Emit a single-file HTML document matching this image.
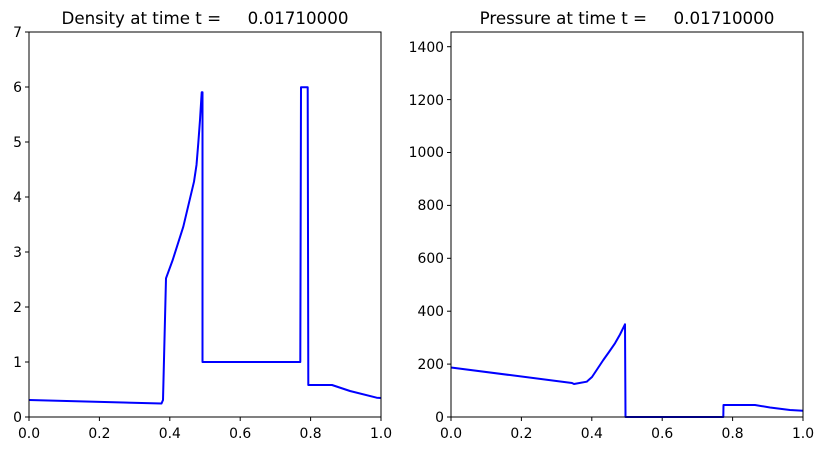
<!DOCTYPE html>
<html><head><meta charset="utf-8"><style>body{margin:0;background:#fff}text{white-space:pre}</style></head><body>
<svg width="824" height="451" viewBox="0 0 824 451" xmlns="http://www.w3.org/2000/svg" font-family="DejaVu Sans, Liberation Sans, sans-serif">
<rect width="824" height="451" fill="#fff"/>
<text x="205" y="24" font-size="16.7" text-anchor="middle" xml:space="preserve">Density at time t =     0.01710000</text>
<text x="627" y="24" font-size="16.7" text-anchor="middle" xml:space="preserve">Pressure at time t =     0.01710000</text>
<g stroke="#000" stroke-width="1">
<line x1="29" y1="417" x2="29" y2="421"/><line x1="99.4" y1="417" x2="99.4" y2="421"/><line x1="169.8" y1="417" x2="169.8" y2="421"/><line x1="240.2" y1="417" x2="240.2" y2="421"/><line x1="310.6" y1="417" x2="310.6" y2="421"/><line x1="381" y1="417" x2="381" y2="421"/>
<line x1="451" y1="417" x2="451" y2="421"/><line x1="521.4" y1="417" x2="521.4" y2="421"/><line x1="591.8" y1="417" x2="591.8" y2="421"/><line x1="662.2" y1="417" x2="662.2" y2="421"/><line x1="732.6" y1="417" x2="732.6" y2="421"/><line x1="803" y1="417" x2="803" y2="421"/>
<line x1="25" y1="417" x2="29" y2="417"/><line x1="25" y1="362" x2="29" y2="362"/><line x1="25" y1="307" x2="29" y2="307"/><line x1="25" y1="252" x2="29" y2="252"/><line x1="25" y1="197" x2="29" y2="197"/><line x1="25" y1="142" x2="29" y2="142"/><line x1="25" y1="87" x2="29" y2="87"/><line x1="25" y1="32" x2="29" y2="32"/>
<line x1="447" y1="417" x2="451" y2="417"/><line x1="447" y1="364.1" x2="451" y2="364.1"/><line x1="447" y1="311.2" x2="451" y2="311.2"/><line x1="447" y1="258.3" x2="451" y2="258.3"/><line x1="447" y1="205.4" x2="451" y2="205.4"/><line x1="447" y1="152.5" x2="451" y2="152.5"/><line x1="447" y1="99.6" x2="451" y2="99.6"/><line x1="447" y1="46.7" x2="451" y2="46.7"/>
</g>
<g font-size="13.9" text-anchor="middle">
<text x="29" y="438">0.0</text><text x="99.4" y="438">0.2</text><text x="169.8" y="438">0.4</text><text x="240.2" y="438">0.6</text><text x="310.6" y="438">0.8</text><text x="381" y="438">1.0</text>
<text x="451" y="438">0.0</text><text x="521.4" y="438">0.2</text><text x="591.8" y="438">0.4</text><text x="662.2" y="438">0.6</text><text x="732.6" y="438">0.8</text><text x="803" y="438">1.0</text>
</g>
<g font-size="13.9" text-anchor="end">
<text x="22" y="422">0</text><text x="22" y="367">1</text><text x="22" y="312">2</text><text x="22" y="257">3</text><text x="22" y="202">4</text><text x="22" y="147">5</text><text x="22" y="92">6</text><text x="22" y="37">7</text>
<text x="444" y="422">0</text><text x="444" y="369">200</text><text x="444" y="316">400</text><text x="444" y="263">600</text><text x="444" y="210">800</text><text x="444" y="157">1000</text><text x="444" y="105">1200</text><text x="444" y="52">1400</text>
</g>
<polyline fill="none" stroke="#0000ff" stroke-width="2" stroke-linejoin="round" points="29,400 161.5,403.5 163,400 166,278.3 172.7,260 183.3,226.7 194,181.7 196.5,165 198.3,143 200,120 201.7,92.3 202.5,92.3 202.5,362 300.3,362 301,87.3 307.7,87.3 308.3,385 332,385 350,391 376.7,397.7 381,398"/>
<polyline fill="none" stroke="#0000ff" stroke-width="2" stroke-linejoin="round" points="451,367.5 572,383 574,384 586.7,381.7 592,377 597,369.5 603.3,360 609,352 615,343.3 620,334.5 625,324.3 625.5,417 723.3,417 723.5,405 755,405 770,407.5 790,410 803,410.7"/>
<rect x="29" y="32" width="352" height="385" fill="none" stroke="#000" stroke-width="1"/>
<rect x="451" y="32" width="352" height="385" fill="none" stroke="#000" stroke-width="1"/>
</svg>
</body></html>
